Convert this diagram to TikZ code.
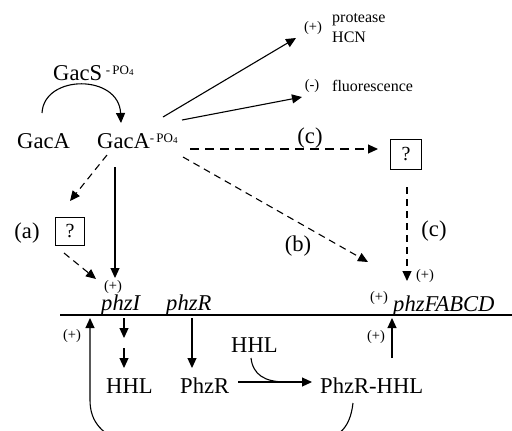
\documentclass[tikz,border=0pt]{standalone}
\usepackage{fontspec}
\setmainfont{Liberation Serif}
\usetikzlibrary{arrows.meta}
\newcommand\phosgrp{{\fontsize{13bp}{13bp}\selectfont -\,PO\raisebox{-0.3ex}{\fontsize{9bp}{9bp}\selectfont 4}}}
\begin{document}
\begin{tikzpicture}[x=1bp,y=-1bp,
  big/.style={inner sep=0pt, font=\fontsize{22.6bp}{26bp}\selectfont},
  mid/.style={inner sep=0pt, font=\fontsize{16bp}{19bp}\selectfont},
  sgn/.style={inner sep=0pt, font=\fontsize{14.5bp}{16bp}\selectfont},
  gene/.style={inner sep=0pt, font=\fontsize{22.6bp}{26bp}\selectfont\itshape},
  qbox/.style={draw, line width=1bp, minimum width=29bp, minimum height=28bp,
               inner sep=0pt, font=\fontsize{20bp}{22bp}\selectfont},
  plain/.style={line width=1.1bp},
  link/.style={plain, -{Triangle[length=10bp,width=9bp]}},
  dlink/.style={link, dash pattern=on 7bp off 5bp}
]
\useasboundingbox (0,0) rectangle (512,430);
\clip (0,0) rectangle (512,430);

% phosphorylation of GacA by GacS
\node[big, anchor=base west] (gaca)  at (17,148) {GacA};
\node[big, anchor=base west] (gacs)  at (53,80)  {GacS\,\raisebox{6bp}{\phosgrp}};
\node[big, anchor=base west] (gacap) at (97,148) {GacA\raisebox{6bp}{\phosgrp}};
\coordinate (arcS) at (42,113);
\coordinate (arcE) at (121,123);
\draw[link] (arcS) .. controls (44,74) and (119,74) .. (arcE);

% direct targets
\node[sgn, anchor=center] (pp1) at (313,28) {(+)};
\node[mid, anchor=base west] (prot) at (332,22) {protease};
\node[mid, anchor=base west] (hcn)  at (332,42) {HCN};
\node[sgn, anchor=center] (mm1) at (312,86) {(-)};
\node[mid, anchor=base west] (fluo) at (332,91) {fluorescence};
\coordinate (o1) at (163,117);
\coordinate (t1) at (296,38);
\coordinate (o2) at (182,120);
\coordinate (t2) at (302,97);
\draw[link] (o1) -- (t1);
\draw[link] (o2) -- (t2);

% unknown intermediates
\node[qbox] (qa) at (70,231) {?};
\node[qbox, minimum width=31bp, minimum height=30bp] (qc) at (406,154) {?};
\node[big] (la) at (27,233) {(a)};
\node[big] (lb) at (298,246) {(b)};
\node[big] (lc1) at (310,138) {(c)};
\node[big] (lc2) at (434,231) {(c)};

% operon line and genes
\coordinate (lineL) at (60,315);
\coordinate (lineR) at (512,315);
\draw[line width=1.2bp] (lineL) -- (lineR);
\node[gene, anchor=base west] (phzI) at (101,310) {phzI};
\node[gene, anchor=base west] (phzR) at (166,310) {phzR};
\node[gene, anchor=base west] (phzF) at (393,311) {phzFABCD};
\node[sgn] (ppI) at (113,287) {(+)};
\node[sgn] (ppF1) at (379,298) {(+)};
\node[sgn] (ppF2) at (425,276) {(+)};
\node[sgn] (ppF3) at (376,337) {(+)};
\node[sgn] (ppL) at (72,336) {(+)};

% regulation by GacA-PO4
\coordinate (d1) at (115,167);
\coordinate (d1t) at (115,278);
\draw[link] (d1) -- (d1t);
\coordinate (da) at (107,155);
\coordinate (dat) at (70,201);
\draw[dlink] (da) -- (dat);
\coordinate (qaout) at (64,253);
\coordinate (qat) at (96,279);
\draw[dlink] (qaout) -- (qat);
\coordinate (db) at (183,157);
\coordinate (dbt) at (368,262);
\draw[dlink] (db) -- (dbt);
\coordinate (dc) at (190,149);
\coordinate (dct) at (378,149);
\draw[link, dash pattern=on 9bp off 6bp] (dc) -- (dct);
\coordinate (qcout) at (407,187);
\coordinate (qct) at (407,281);
\draw[dlink] (qcout) -- (qct);

% products
\node[big, anchor=base west] (hhl)  at (106,393) {HHL};
\node[big, anchor=base west] (phzRp) at (180,393) {PhzR};
\node[big, anchor=base west] (cplx) at (320,393) {PhzR-HHL};
\node[big, anchor=base west] (hhl2) at (231,352) {HHL};

\coordinate (i1) at (124,318);
\coordinate (i1t) at (124,338);
\coordinate (i2) at (124,348);
\coordinate (i2t) at (124,368);
\draw[link] (i1) -- (i1t);
\draw[link] (i2) -- (i2t);
\coordinate (r1) at (192,318);
\coordinate (r1t) at (192,368);
\draw[link] (r1) -- (r1t);
\coordinate (bind) at (238,382);
\coordinate (bindt) at (312,382);
\draw[link] (bind) -- (bindt);
\coordinate (hhlin) at (251,358);
\draw[plain] (hhlin) .. controls (253,375) and (265,382) .. (286,382);
\coordinate (up) at (392,358);
\coordinate (upt) at (392,318);
\draw[link] (up) -- (upt);

% autoinduction loop back to phzI
\coordinate (loopS) at (353,403);
\coordinate (loopT) at (90,318);
\draw[link] (loopS) .. controls (350,428) and (340,436) .. (318,444)
  -- (130,444) .. controls (102,436) and (90,422) .. (90,400) -- (loopT);
\end{tikzpicture}
\end{document}
